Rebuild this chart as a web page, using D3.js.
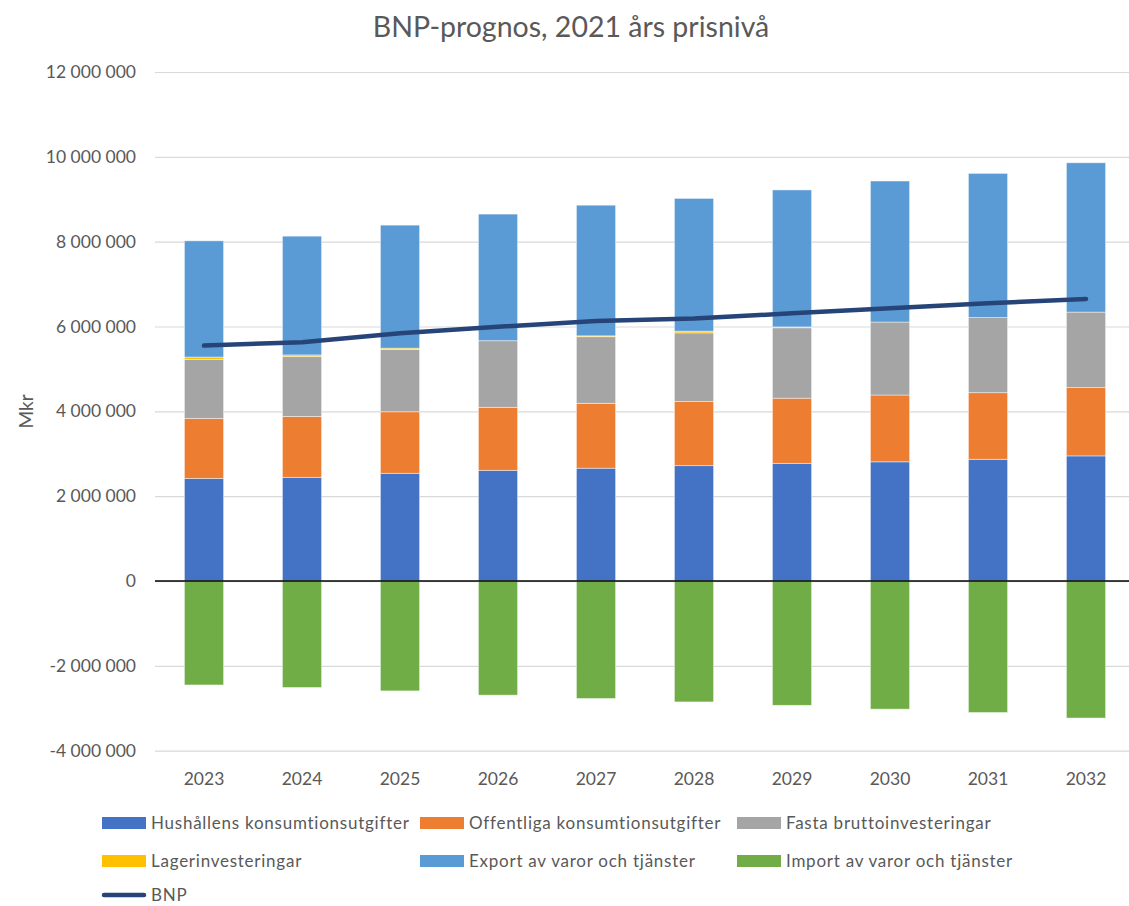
<!DOCTYPE html>
<html>
<head>
<meta charset="utf-8">
<script src="https://cdn.jsdelivr.net/npm/d3@7"></script>
<style>
  html, body { margin: 0; padding: 0; background: #ffffff; }
  svg { display: block; }
  text { font-family: Lato, "Open Sans", sans-serif; fill: #595959; }
</style>
</head>
<body>
<script>
// BNP-prognos per användningskomponent, miljoner kronor i 2021 års priser
const years = ["2023", "2024", "2025", "2026", "2027", "2028", "2029", "2030", "2031", "2032"];
const hushall   = [2420000, 2445000, 2540000, 2610000, 2660000, 2720000, 2775000, 2810000, 2870000, 2950000];
const offentlig = [1415000, 1435000, 1450000, 1485000, 1530000, 1510000, 1535000, 1575000, 1570000, 1610000];
const fasta     = [1390000, 1410000, 1470000, 1570000, 1570000, 1620000, 1660000, 1720000, 1770000, 1780000];
const lager     = [55000, 40000, 30000, 0, 20000, 40000, 20000, 0, 0, 0];
const exporten  = [2740000, 2800000, 2900000, 2985000, 3080000, 3130000, 3230000, 3325000, 3400000, 3520000];
const importen  = [-2450000, -2510000, -2590000, -2690000, -2770000, -2850000, -2930000, -3020000, -3100000, -3230000];
const bnp       = [5550000, 5630000, 5840000, 5995000, 6130000, 6190000, 6310000, 6430000, 6550000, 6650000];
const yTicks    = [-4000000, -2000000, 0, 2000000, 4000000, 6000000, 8000000, 10000000, 12000000];

const seriesNames = [
  "Hushållens konsumtionsutgifter",
  "Offentliga konsumtionsutgifter",
  "Fasta bruttoinvesteringar",
  "Lagerinvesteringar",
  "Export av varor och tjänster",
  "Import av varor och tjänster"
];
const seriesValues = [hushall, offentlig, fasta, lager, exporten, importen];
const seriesColors = ["#4472C4", "#ED7D31", "#A5A5A5", "#FFC000", "#5B9BD5", "#70AD47"];
const lineName = "BNP";
const lineColor = "#264478";

const W = 1129, H = 906;
const svg = d3.select("body").append("svg").attr("width", W).attr("height", H);

const plot = { left: 155, right: 1135, top: 72, bottom: 750.7 };

const x = d3.scaleBand().domain(years).range([plot.left, plot.right])
  .paddingInner(0.6).paddingOuter(0.3);
const y = d3.scaleLinear().domain([-4000000, 12000000]).range([plot.bottom, plot.top]);

const locale = d3.formatLocale({ decimal: ",", thousands: "\u00a0", grouping: [3], currency: ["", " kr"], minus: "-" });
const fmt = locale.format(",d");

// Title
svg.append("text")
  .attr("x", 571).attr("y", 37)
  .attr("text-anchor", "middle")
  .style("font-size", "28.5px")
  .text("BNP-prognos, 2021 års prisnivå");

// Gridlines and y tick labels
const yAxis = d3.axisLeft(y).tickValues(yTicks).tickFormat(fmt).tickSize(0).tickPadding(19);
const gy = svg.append("g").attr("transform", `translate(${plot.left},0)`).call(yAxis);
gy.select(".domain").remove();
gy.selectAll("text").style("font-size", "17.5px").attr("fill", "#595959").style("font-family", "Lato, sans-serif");
gy.selectAll(".tick").append("line")
  .attr("x1", 0).attr("x2", plot.right - plot.left)
  .attr("stroke", "#D9D9D9").attr("stroke-width", 1.2);

// Y axis title
svg.append("text")
  .attr("transform", `translate(33,${(plot.top + plot.bottom) / 2}) rotate(-90)`)
  .attr("text-anchor", "middle")
  .style("font-size", "19px")
  .text("Mkr");

// Stacked columns (positive components up, import down)
const rows = years.map((yr, i) => {
  const r = { year: yr };
  seriesNames.forEach((n, k) => { r[n] = seriesValues[k][i]; });
  return r;
});
const stack = d3.stack().keys(seriesNames).offset(d3.stackOffsetDiverging);
const layers = stack(rows);

svg.append("g").selectAll("g")
  .data(layers).join("g")
  .attr("fill", (d, k) => seriesColors[k])
  .selectAll("rect")
  .data(d => d.filter(p => p[1] !== p[0]))
  .join("rect")
  .attr("x", d => x(d.data.year))
  .attr("width", x.bandwidth())
  .attr("y", d => y(Math.max(d[0], d[1])))
  .attr("height", d => Math.abs(y(d[0]) - y(d[1])))
  .attr("stroke", "#ffffff")
  .attr("stroke-opacity", 0.55)
  .attr("stroke-width", 0.8);

// Zero line
svg.append("line")
  .attr("x1", plot.left).attr("x2", plot.right)
  .attr("y1", y(0)).attr("y2", y(0))
  .attr("stroke", "#000000").attr("stroke-width", 1.4);

// BNP line
const line = d3.line()
  .x((d, i) => x(years[i]) + x.bandwidth() / 2)
  .y(d => y(d));
svg.append("path")
  .datum(bnp)
  .attr("d", line)
  .attr("fill", "none")
  .attr("stroke", lineColor)
  .attr("stroke-width", 4.5)
  .attr("stroke-linecap", "round")
  .attr("stroke-linejoin", "round");

// X labels
const xAxis = d3.axisBottom(x).tickSize(0).tickPadding(0);
const gx = svg.append("g").attr("transform", `translate(0,${plot.bottom})`).call(xAxis);
gx.select(".domain").remove();
gx.selectAll("text")
  .attr("y", 34).attr("dy", 0)
  .style("font-size", "17.5px").attr("fill", "#595959").style("font-family", "Lato, sans-serif");

// Legend
const legendCols = [102, 420, 737];
const legendRows = [823, 861, 895];
const legend = svg.append("g");
seriesNames.forEach((n, k) => {
  const cx = legendCols[k % 3], cy = legendRows[Math.floor(k / 3)];
  legend.append("rect")
    .attr("x", cx).attr("y", cy - 6).attr("width", 44).attr("height", 12)
    .attr("fill", seriesColors[k]);
  legend.append("text")
    .attr("x", cx + 49).attr("y", cy).attr("dy", "0.35em")
    .style("font-size", "17px")
    .style("letter-spacing", "0.75px")
    .text(n);
});
legend.append("line")
  .attr("x1", legendCols[0] + 2).attr("x2", legendCols[0] + 42)
  .attr("y1", legendRows[2]).attr("y2", legendRows[2])
  .attr("stroke", lineColor).attr("stroke-width", 4.5).attr("stroke-linecap", "round");
legend.append("text")
  .attr("x", legendCols[0] + 49).attr("y", legendRows[2]).attr("dy", "0.33em")
  .style("font-size", "17px")
  .style("letter-spacing", "0.75px")
  .text(lineName);
</script>
</body>
</html>
